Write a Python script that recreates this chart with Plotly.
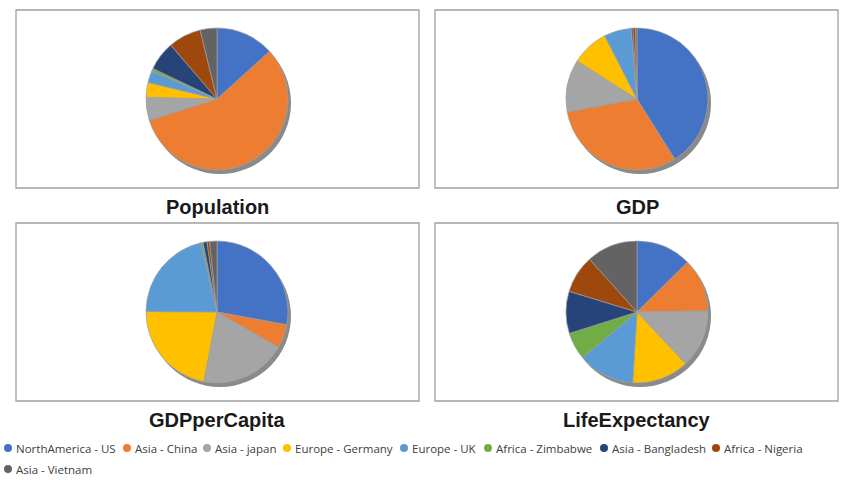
import plotly.graph_objects as go

# ---------------- data ----------------
categories = ["NorthAmerica - US", "Asia - China", "Asia - japan", "Europe - Germany",
              "Europe - UK", "Africa - Zimbabwe", "Asia - Bangladesh", "Africa - Nigeria",
              "Asia - Vietnam"]
population = [320, 1370, 127, 81, 65, 15, 160, 180, 92]            # millions
gdp = [17.9, 13.5, 5.2, 3.7, 2.7, 0.02, 0.15, 0.25, 0.15]          # trillions
gdp_per_capita = [55.8, 10.8, 39.4, 44.2, 42.6, 0.9, 1.8, 1.2, 3.3]  # thousands
life_expectancy = [79, 76, 83, 81, 81, 39, 60, 54, 73]
chart_titles = ["Population", "GDP", "GDPperCapita", "LifeExpectancy"]

colors = ["#4472C4", "#ED7D31", "#A5A5A5", "#FFC000", "#5B9BD5",
          "#70AD47", "#264478", "#9E480E", "#636363"]

# ---------------- layout ----------------
W, H = 854, 480
series = [population, gdp, gdp_per_capita, life_expectancy]
centers = [(217, 99), (637, 99), (217, 312), (637, 312)]
boxes = [(16, 10, 419, 188), (435, 10, 838, 188), (16, 223, 419, 401), (435, 223, 838, 401)]
title_pos = [(217, 207), (637, 207), (217, 420), (637, 420)]
R = 71
SHADOW = (3, 4)


def dom(cx, cy, r):
    return dict(x=[(cx - r) / W, (cx + r) / W],
                y=[(H - (cy + r)) / H, (H - (cy - r)) / H])


fig = go.Figure()
shapes = []
annotations = []

for i, vals in enumerate(series):
    cx, cy = centers[i]
    # shadow
    fig.add_trace(go.Pie(values=[1], labels=["shadow"], domain=dom(cx + SHADOW[0], cy + SHADOW[1], R),
                         marker=dict(colors=["#8a8a8a"], line=dict(width=0)),
                         textinfo="none", hoverinfo="skip", showlegend=False, sort=False))
    fig.add_trace(go.Pie(values=vals, labels=categories, domain=dom(cx, cy, R),
                         marker=dict(colors=colors, line=dict(color="#a0a0a0", width=0.7)),
                         textinfo="none", sort=False, direction="clockwise", rotation=0,
                         showlegend=False, name=chart_titles[i]))
    x0, y0, x1, y1 = boxes[i]
    shapes.append(dict(type="rect", xref="paper", yref="paper",
                       x0=x0 / W, x1=x1 / W, y0=1 - y1 / H, y1=1 - y0 / H,
                       line=dict(color="#a0a0a0", width=1.3), layer="below"))
    tx, ty = title_pos[i]
    annotations.append(dict(text="<b>" + chart_titles[i] + "</b>", x=tx / W, y=1 - ty / H,
                            xref="paper", yref="paper", xanchor="center", yanchor="middle",
                            showarrow=False,
                            font=dict(family="Liberation Sans", size=20, color="#1a1a1a")))

# custom legend
legend_x = [8, 127, 207, 287, 404, 488, 604, 716, 8]
legend_y = [448, 448, 448, 448, 448, 448, 448, 448, 469]
for k, name in enumerate(categories):
    lx, ly = legend_x[k], legend_y[k]
    shapes.append(dict(type="circle", xref="paper", yref="paper",
                       x0=(lx - 4) / W, x1=(lx + 4) / W, y0=1 - (ly + 4) / H, y1=1 - (ly - 4) / H,
                       fillcolor=colors[k], line=dict(width=0)))
    annotations.append(dict(text=name, x=(lx + 6) / W, y=1 - ly / H, xref="paper", yref="paper",
                            xanchor="left", yanchor="middle", showarrow=False,
                            font=dict(family="Open Sans", size=11.5, color="#404040")))

fig.update_layout(width=W, height=H, margin=dict(l=0, r=0, t=0, b=0),
                  paper_bgcolor="white", plot_bgcolor="white",
                  shapes=shapes, annotations=annotations, showlegend=False)

fig.write_html("out.html", config={"displayModeBar": False},
               post_script="document.body.style.margin='0';document.body.style.overflow='hidden';")
